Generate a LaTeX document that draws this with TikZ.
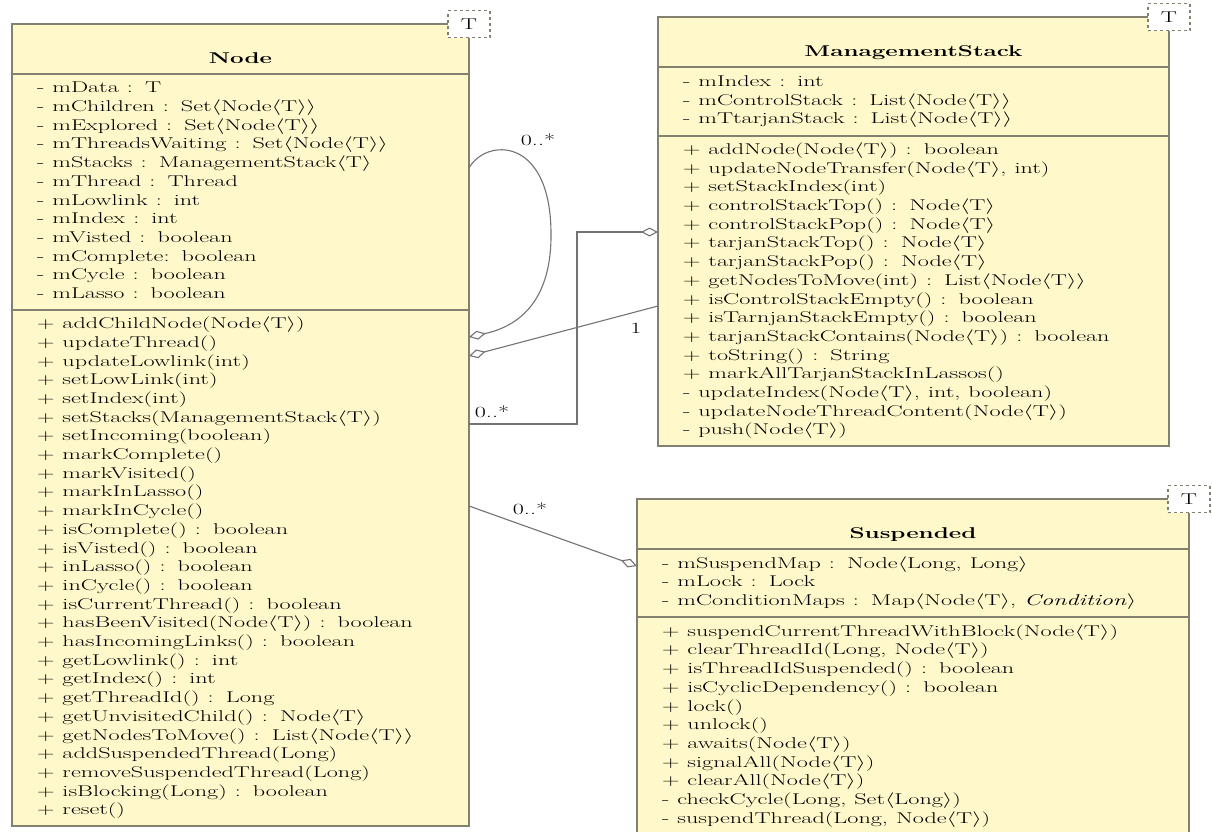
\RequirePackage{fix-cm}
\documentclass[tikz,border=0pt]{standalone}
\usepackage{graphicx}
\usetikzlibrary{positioning,arrows.meta}

\definecolor{clsfill}{RGB}{255,248,202}
\definecolor{clsdraw}{RGB}{130,128,110}
\definecolor{linkgray}{RGB}{115,115,115}

\newcommand{\wide}[1]{\scalebox{1.55}[1]{#1}}
\newcommand{\lan}{\ensuremath{\langle}}
\newcommand{\ran}{\ensuremath{\rangle}}
\newcommand{\members}[1]{\wide{\begin{tabular}{@{}l@{}}#1\end{tabular}}}

\begin{document}
\begin{tikzpicture}[x=1pt, y=-1pt,
  every node/.style={font=\fontsize{15.6}{18.7}\selectfont},
  clspart/.style={rectangle, draw=clsdraw, fill=clsfill, line width=1.2pt,
    outer sep=0pt, inner xsep=25pt, inner ysep=0pt, align=left},
  clshead/.style={clspart, align=center, text height=39pt, text depth=11pt},
  tmplbox/.style={rectangle, draw=clsdraw, dashed, line width=1.1pt, fill=white,
    minimum width=42pt, minimum height=27pt, inner sep=0pt},
  link/.style={draw=linkgray, line width=1.1pt},
  agg/.style={link, -{Diamond[open, fill=white, length=17pt, width=9pt]}},
  mult/.style={inner sep=1pt}
]
\useasboundingbox (0,0) rectangle (1212,831);

% class Node
\node[clshead, text width=407pt, anchor=north west] (nodeH) at (12,24) {\wide{\textbf{Node}}};
\node[clspart, text width=407pt, minimum height=236pt, below=0pt of nodeH] (nodeA) {\members{
- mData : T\\
- mChildren : Set\lan Node\lan T\ran\ran\\
- mExplored : Set\lan Node\lan T\ran\ran\\
- mThreadsWaiting : Set\lan Node\lan T\ran\ran\\
- mStacks : ManagementStack\lan T\ran\\
- mThread : Thread\\
- mLowlink : int\\
- mIndex : int\\
- mVisted : boolean\\
- mComplete: boolean\\
- mCycle : boolean\\
- mLasso : boolean}};
\node[clspart, text width=407pt, minimum height=516pt, below=0pt of nodeA] (nodeM) {\members{
+ addChildNode(Node\lan T\ran)\\
+ updateThread()\\
+ updateLowlink(int)\\
+ setLowLink(int)\\
+ setIndex(int)\\
+ setStacks(ManagementStack\lan T\ran)\\
+ setIncoming(boolean)\\
+ markComplete()\\
+ markVisited()\\
+ markInLasso()\\
+ markInCycle()\\
+ isComplete() : boolean\\
+ isVisted() : boolean\\
+ inLasso() : boolean\\
+ inCycle() : boolean\\
+ isCurrentThread() : boolean\\
+ hasBeenVisited(Node\lan T\ran) : boolean\\
+ hasIncomingLinks() : boolean\\
+ getLowlink() : int\\
+ getIndex() : int\\
+ getThreadId() : Long\\
+ getUnvisitedChild() : Node\lan T\ran\\
+ getNodesToMove() : List\lan Node\lan T\ran\ran\\
+ addSuspendedThread(Long)\\
+ removeSuspendedThread(Long)\\
+ isBlocking(Long) : boolean\\
+ reset()}};
\node[tmplbox] (nodeT) at (nodeH.north east) {\wide{T}};

% class ManagementStack
\node[clshead, text width=461pt, anchor=north west] (msH) at (658,17) {\wide{\textbf{ManagementStack}}};
\node[clspart, text width=461pt, minimum height=69pt, below=0pt of msH] (msA) {\members{
- mIndex : int\\
- mControlStack : List\lan Node\lan T\ran\ran\\
- mTtarjanStack : List\lan Node\lan T\ran\ran}};
\node[clspart, text width=461pt, minimum height=310pt, below=0pt of msA] (msM) {\members{
+ addNode(Node\lan T\ran) : boolean\\
+ updateNodeTransfer(Node\lan T\ran, int)\\
+ setStackIndex(int)\\
+ controlStackTop() : Node\lan T\ran\\
+ controlStackPop() : Node\lan T\ran\\
+ tarjanStackTop() : Node\lan T\ran\\
+ tarjanStackPop() : Node\lan T\ran\\
+ getNodesToMove(int) : List\lan Node\lan T\ran\ran\\
+ isControlStackEmpty() : boolean\\
+ isTarnjanStackEmpty() : boolean\\
+ tarjanStackContains(Node\lan T\ran) : boolean\\
+ toString() : String\\
+ markAllTarjanStackInLassos()\\
- updateIndex(Node\lan T\ran, int, boolean)\\
- updateNodeThreadContent(Node\lan T\ran)\\
- push(Node\lan T\ran)}};
\node[tmplbox] (msT) at (msH.north east) {\wide{T}};

% class Suspended
\node[clshead, text width=502pt, anchor=north west] (susH) at (637,499) {\wide{\textbf{Suspended}}};
\node[clspart, text width=502pt, minimum height=68pt, below=0pt of susH] (susA) {\members{
- mSuspendMap : Node\lan Long, Long\ran\\
- mLock : Lock\\
- mConditionMaps : Map\lan Node\lan T\ran, \textit{Condition}\ran}};
\node[clspart, text width=502pt, minimum height=218pt, below=0pt of susA] (susM) {\members{
+ suspendCurrentThreadWithBlock(Node\lan T\ran)\\
+ clearThreadId(Long, Node\lan T\ran)\\
+ isThreadIdSuspended() : boolean\\
+ isCyclicDependency() : boolean\\
+ lock()\\
+ unlock()\\
+ awaits(Node\lan T\ran)\\
+ signalAll(Node\lan T\ran)\\
+ clearAll(Node\lan T\ran)\\
- checkCycle(Long, Set\lan Long\ran)\\
- suspendThread(Long, Node\lan T\ran)}};
\node[tmplbox] (susT) at (susH.north east) {\wide{T}};

% associations
\draw[agg] (nodeA.east |- 0,168) node[mult, xshift=69pt, yshift=28pt] {\wide{0..*}}
  .. controls (486,138) and (550,136) .. (551,232)
  .. controls (552,300) and (520,326) .. (nodeM.east |- 0,337);
\draw[agg] (nodeM.east |- 0,424) node[mult, xshift=23pt, yshift=12pt] {\wide{0..*}}
  -| (577,232) -- (msM.west |- 0,232);
\draw[agg] (msM.west |- 0,306) node[mult, xshift=-22pt, yshift=-22pt] {\wide{1}}
  -- (nodeM.east |- 0,356);
\draw[agg] (nodeM.east |- 0,506) node[mult, xshift=61pt, yshift=-3pt] {\wide{0..*}}
  -- (susA.west |- 0,566);
\end{tikzpicture}
\end{document}
